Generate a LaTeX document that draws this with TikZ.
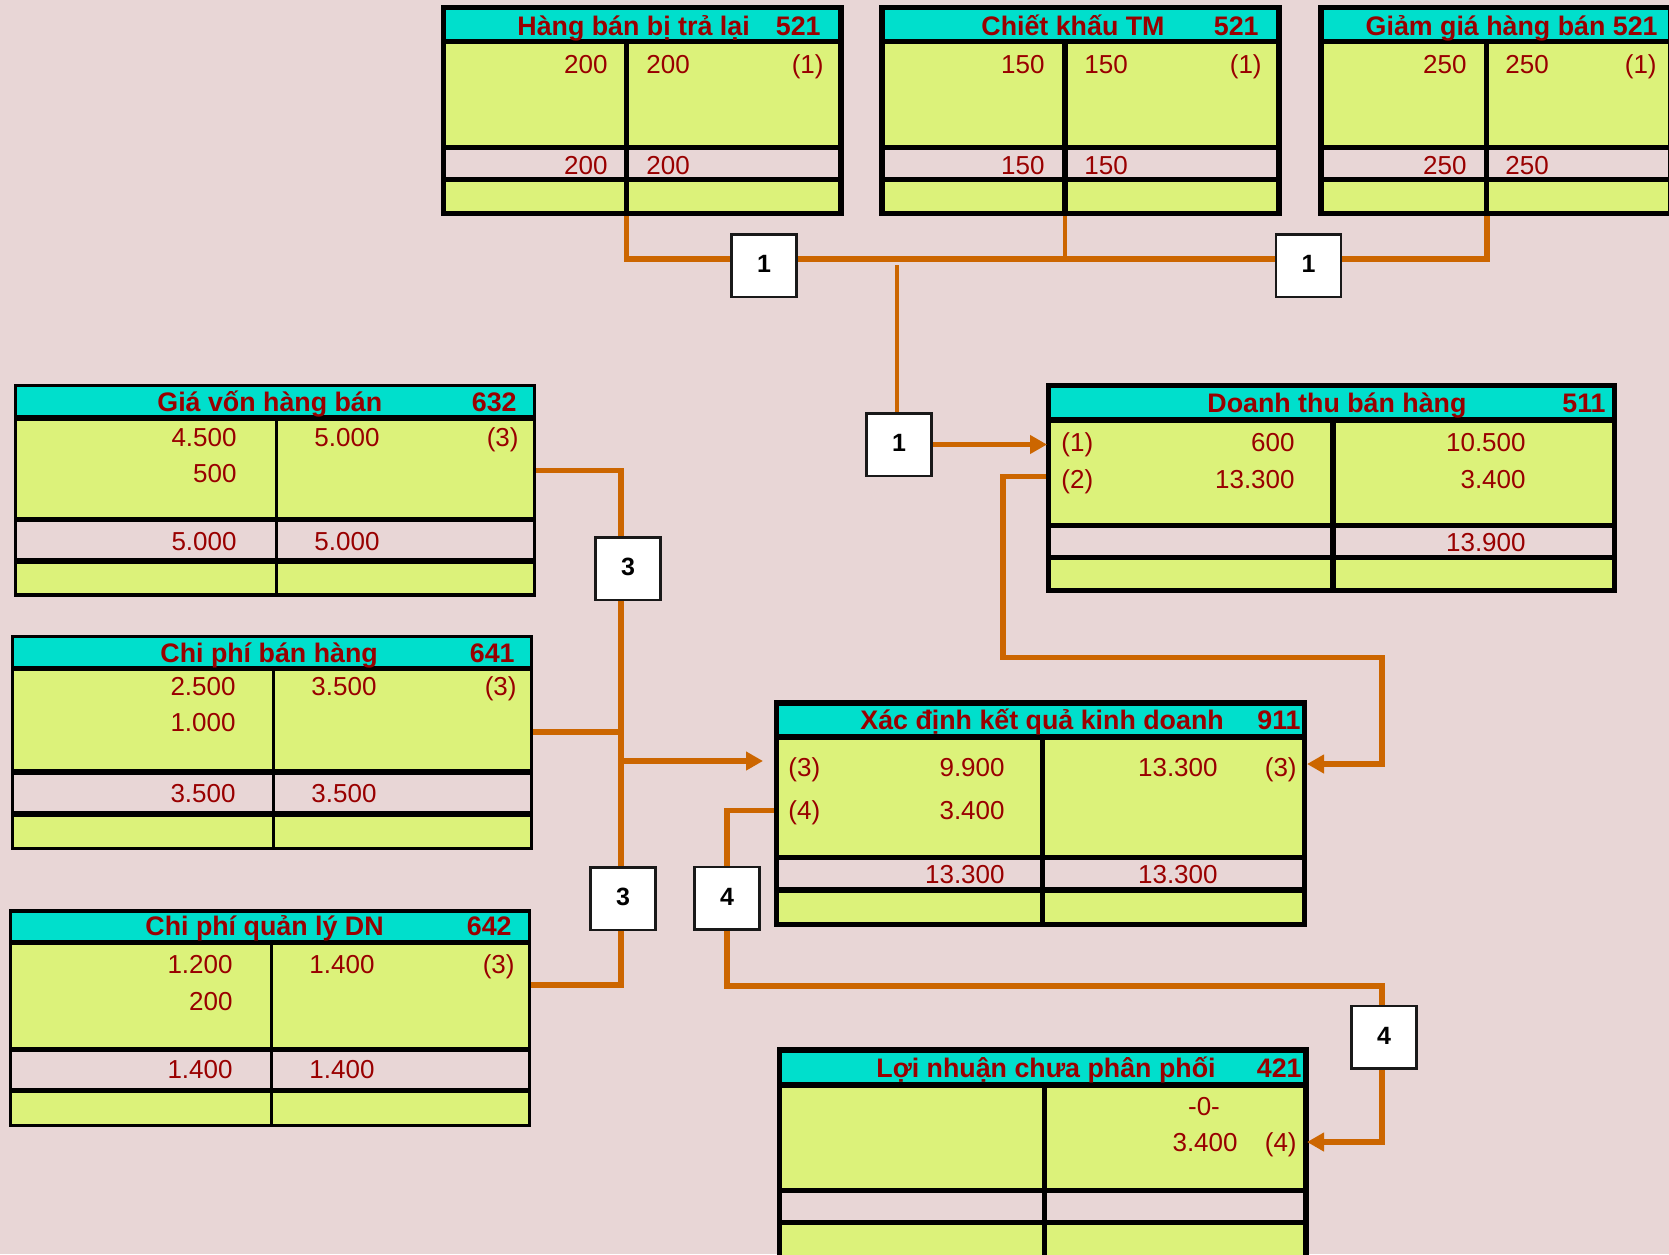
\documentclass[tikz,border=0pt]{standalone}
\usepackage{fontspec}
\setmainfont{Liberation Sans}
\usetikzlibrary{arrows.meta}

\definecolor{bgpink}{RGB}{232,214,214}
\definecolor{cellyellow}{RGB}{220,242,122}
\definecolor{titlecyan}{RGB}{0,223,204}
\definecolor{inkred}{RGB}{153,0,0}
\definecolor{linkorange}{RGB}{204,102,0}

\pgfdeclarelayer{links}
\pgfdeclarelayer{front}
\pgfsetlayers{main,links,front}

% rule widths of the T-account being drawn: vertical, inner horizontal, outer top/bottom
\def\tvrule{5.5}
\def\thrule{5}
\def\torule{5}

% T-account: #1 name, #2 left, #3 right, #4 divider, #5 top,
% #6 title line, #7 body line, #8 total line, #9 bottom (rule centres)
\newcommand\taccount[9]{%
  \fill[black] ({#2-\tvrule/2},{#5-\torule/2}) rectangle ({#3+\tvrule/2},{#9+\torule/2});
  \fill[titlecyan] ({#2+\tvrule/2},{#5+\torule/2}) rectangle ({#3-\tvrule/2},{#6-\thrule/2});
  \fill[cellyellow] ({#2+\tvrule/2},{#6+\thrule/2}) rectangle ({#4-\tvrule/2},{#7-\thrule/2});
  \fill[cellyellow] ({#4+\tvrule/2},{#6+\thrule/2}) rectangle ({#3-\tvrule/2},{#7-\thrule/2});
  \fill[bgpink] ({#2+\tvrule/2},{#7+\thrule/2}) rectangle ({#4-\tvrule/2},{#8-\thrule/2});
  \fill[bgpink] ({#4+\tvrule/2},{#7+\thrule/2}) rectangle ({#3-\tvrule/2},{#8-\thrule/2});
  \fill[cellyellow] ({#2+\tvrule/2},{#8+\thrule/2}) rectangle ({#4-\tvrule/2},{#9-\torule/2});
  \fill[cellyellow] ({#4+\tvrule/2},{#8+\thrule/2}) rectangle ({#3-\tvrule/2},{#9-\torule/2});
  \path (#2,#5) coordinate (#1-nw) (#3,#9) coordinate (#1-se);
}

\tikzset{
  acctitle/.style={font=\fontsize{13.4}{16}\selectfont\bfseries, text=inkred, inner sep=0pt},
  amount/.style={font=\fontsize{13}{15}\selectfont, text=inkred, inner sep=0pt},
  labelbox/.style={draw=black!90, fill=white, line width=1.25pt, minimum width=32.5pt,
    minimum height=31.25pt, inner sep=0pt, font=\fontsize{12.5}{15}\selectfont\bfseries},
  link/.style={draw=linkorange, line width=2.6pt},
  thinlink/.style={draw=linkorange, line width=2pt},
  arrowed/.style={-{Triangle[length=8.5pt,width=9pt]}},
}
\newcommand\entryno[1]{\raisebox{1.5pt}{#1}}

\begin{document}
\begin{tikzpicture}[x=0.5pt,y=-0.5pt]
\useasboundingbox (0,0) rectangle (1669,1254);
\clip (0,0) rectangle (1669,1254);
\fill[bgpink] (0,0) rectangle (1669,1254);

% ---- accounts 521 (top row) ----
\taccount{hb}{443.5}{841}{626.5}{7.5}{41.5}{147.5}{179.5}{213.5}
\taccount{ck}{882}{1279}{1065}{7.5}{41.5}{147.5}{179.5}{213.5}
\taccount{gg}{1321}{1671}{1486.5}{7.5}{41.5}{147.5}{179.5}{213.5}

\node[acctitle, anchor=base west] (hb-name) at (517,35) {Hàng bán bị trả lại};
\node[acctitle, anchor=base east] (hb-no) at (821,35) {521};
\node[amount, anchor=base east] (hb-d1) at (608,73) {200};
\node[amount, anchor=base west] (hb-c1) at (646,73) {200};
\node[amount, anchor=base east] (hb-r1) at (824,73) {(1)};
\node[amount, anchor=base east] (hb-dt) at (608,174) {200};
\node[amount, anchor=base west] (hb-ct) at (646,174) {200};

\node[acctitle, anchor=base west] (ck-name) at (981,35) {Chiết khấu TM};
\node[acctitle, anchor=base east] (ck-no) at (1259,35) {521};
\node[amount, anchor=base east] (ck-d1) at (1045,73) {150};
\node[amount, anchor=base west] (ck-c1) at (1084,73) {150};
\node[amount, anchor=base east] (ck-r1) at (1262,73) {(1)};
\node[amount, anchor=base east] (ck-dt) at (1045,174) {150};
\node[amount, anchor=base west] (ck-ct) at (1084,174) {150};

\node[acctitle, anchor=base east] (gg-name) at (1658,35) {Giảm giá hàng bán 521};
\node[amount, anchor=base east] (gg-d1) at (1467,73) {250};
\node[amount, anchor=base west] (gg-c1) at (1505,73) {250};
\node[amount, anchor=base east] (gg-r1) at (1657,73) {(1)};
\node[amount, anchor=base east] (gg-dt) at (1467,174) {250};
\node[amount, anchor=base west] (gg-ct) at (1505,174) {250};

% ---- expense accounts (left column) ----
\def\tvrule{3}\def\thrule{5.5}\def\torule{3.5}
\taccount{gv}{15.5}{534.5}{276.5}{385.5}{418}{519.5}{561}{595}
\taccount{bh}{12.5}{531}{273}{636.5}{668.5}{772}{814}{848.5}
\taccount{ql}{10.5}{529.5}{271}{911}{942.5}{1049.5}{1090.5}{1125.5}

\node[acctitle, anchor=base west] (gv-name) at (157,411) {Giá vốn hàng bán};
\node[acctitle, anchor=base east] (gv-no) at (517,411) {632};
\node[amount, anchor=base east] (gv-d1) at (237,446) {4.500};
\node[amount, anchor=base east] (gv-d2) at (237,482) {500};
\node[amount, anchor=base west] (gv-c1) at (314,446) {5.000};
\node[amount, anchor=base east] (gv-r1) at (519,446) {(3)};
\node[amount, anchor=base east] (gv-dt) at (237,550) {5.000};
\node[amount, anchor=base west] (gv-ct) at (314,550) {5.000};

\node[acctitle, anchor=base west] (bh-name) at (160,662) {Chi phí bán hàng};
\node[acctitle, anchor=base east] (bh-no) at (515,662) {641};
\node[amount, anchor=base east] (bh-d1) at (236,695) {2.500};
\node[amount, anchor=base east] (bh-d2) at (236,731) {1.000};
\node[amount, anchor=base west] (bh-c1) at (311,695) {3.500};
\node[amount, anchor=base east] (bh-r1) at (517,695) {(3)};
\node[amount, anchor=base east] (bh-dt) at (236,802) {3.500};
\node[amount, anchor=base west] (bh-ct) at (311,802) {3.500};

\node[acctitle, anchor=base west] (ql-name) at (145,935) {Chi phí quản lý DN};
\node[acctitle, anchor=base east] (ql-no) at (512,935) {642};
\node[amount, anchor=base east] (ql-d1) at (233,973) {1.200};
\node[amount, anchor=base east] (ql-d2) at (233,1010) {200};
\node[amount, anchor=base west] (ql-c1) at (309,973) {1.400};
\node[amount, anchor=base east] (ql-r1) at (515,973) {(3)};
\node[amount, anchor=base east] (ql-dt) at (233,1078) {1.400};
\node[amount, anchor=base west] (ql-ct) at (309,1078) {1.400};

% ---- accounts 511, 911, 421 ----
\def\tvrule{5.5}\def\thrule{5.5}\def\torule{5.5}
\taccount{dt}{1048.5}{1614.5}{1333}{385.5}{420}{525.5}{557.5}{590.5}
\taccount{xd}{776.5}{1304.5}{1042.5}{703}{737}{857.5}{890}{924.5}
\taccount{ln}{779.7}{1306}{1044.5}{1050}{1085}{1190.5}{1222.5}{1258}

\node[acctitle, anchor=base west] (dt-name) at (1207,412) {Doanh thu bán hàng};
\node[acctitle, anchor=base east] (dt-no) at (1606,412) {511};
\node[amount, anchor=base west] (dt-r1) at (1061,451) {(1)};
\node[amount, anchor=base east] (dt-d1) at (1295,451) {600};
\node[amount, anchor=base west] (dt-r2) at (1061,488) {(2)};
\node[amount, anchor=base east] (dt-d2) at (1295,488) {13.300};
\node[amount, anchor=base east] (dt-c1) at (1526,451) {10.500};
\node[amount, anchor=base east] (dt-c2) at (1526,488) {3.400};
\node[amount, anchor=base east] (dt-ct) at (1526,551) {13.900};

\node[acctitle, anchor=base west] (xd-name) at (860,729) {Xác định kết quả kinh doanh};
\node[acctitle, anchor=base east] (xd-no) at (1301,729) {911};
\node[amount, anchor=base west] (xd-r1) at (788,776) {(3)};
\node[amount, anchor=base east] (xd-d1) at (1005,776) {9.900};
\node[amount, anchor=base west] (xd-r2) at (788,819) {(4)};
\node[amount, anchor=base east] (xd-d2) at (1005,819) {3.400};
\node[amount, anchor=base east] (xd-c1) at (1218,776) {13.300};
\node[amount, anchor=base east] (xd-r3) at (1297,776) {(3)};
\node[amount, anchor=base east] (xd-dt) at (1005,883) {13.300};
\node[amount, anchor=base east] (xd-ct) at (1218,883) {13.300};

\node[acctitle, anchor=base west] (ln-name) at (876,1077) {Lợi nhuận chưa phân phối};
\node[acctitle, anchor=base east] (ln-no) at (1302,1077) {421};
\node[amount, anchor=base] (ln-c0) at (1204,1115) {-0-};
\node[amount, anchor=base east] (ln-c1) at (1238,1151) {3.400};
\node[amount, anchor=base east] (ln-r1) at (1297,1151) {(4)};

% ---- entry number boxes ----
\begin{pgfonlayer}{front}
\node[labelbox] (b1a) at (764,265.5) {\entryno{1}};
\node[labelbox] (b1b) at (1308.5,265.5) {\entryno{1}};
\node[labelbox] (b1c) at (899,444.5) {\entryno{1}};
\node[labelbox] (b3a) at (628,568.5) {\entryno{3}};
\node[labelbox] (b3b) at (623,898.5) {\entryno{3}};
\node[labelbox] (b4a) at (727,898) {\entryno{4}};
\node[labelbox] (b4b) at (1384,1037) {\entryno{4}};
\end{pgfonlayer}

% ---- posting lines ----
\begin{pgfonlayer}{links}
% entry 1: the three 521 accounts closed into 511
\coordinate (hb-foot) at (626.5,216);
\coordinate (ck-foot) at (1065,216);
\coordinate (gg-foot) at (1487,216);
\coordinate (bus1) at (897,259);
\coordinate (dt-in) at (1047,444.5);
\draw[link] (hb-foot) -- (hb-foot |- bus1) -- (gg-foot |- bus1) -- (gg-foot);
\draw[thinlink] (ck-foot) -- (ck-foot |- bus1);
\draw[thinlink] (b1c.north -| bus1) -- ++(0,-147);
\draw[link, arrowed] (b1c.east) -- (dt-in);

% entry 2: net revenue from 511 into 911
\coordinate (dt-out) at (1046,476.5);
\coordinate (xd-in-r) at (1307,764);
\draw[link, arrowed] (dt-out) -- (1003,476.5) -- (1003,657.5) -- (1382,657.5)
  -- (1382,764) -- (xd-in-r);

% entry 3: expenses 632, 641, 642 into 911
\coordinate (gv-out) at (536,470.5);
\coordinate (bh-out) at (532.5,732);
\coordinate (ql-out) at (531,985);
\coordinate (spine) at (621,761);
\coordinate (xd-in-l) at (763,761);
\draw[link] (gv-out) -- (gv-out -| spine) -- (ql-out -| spine) -- (ql-out);
\draw[link] (bh-out) -- (bh-out -| spine);
\draw[link, arrowed] (spine) -- (xd-in-l);

% entry 4: profit from 911 into 421
\coordinate (xd-out) at (774,810.5);
\coordinate (ln-in) at (1307,1142);
\draw[link, arrowed] (xd-out) -- (727,810.5) -- (727,986) -- (1382,986)
  -- (1382,1142) -- (ln-in);
\end{pgfonlayer}
\end{tikzpicture}
\end{document}
